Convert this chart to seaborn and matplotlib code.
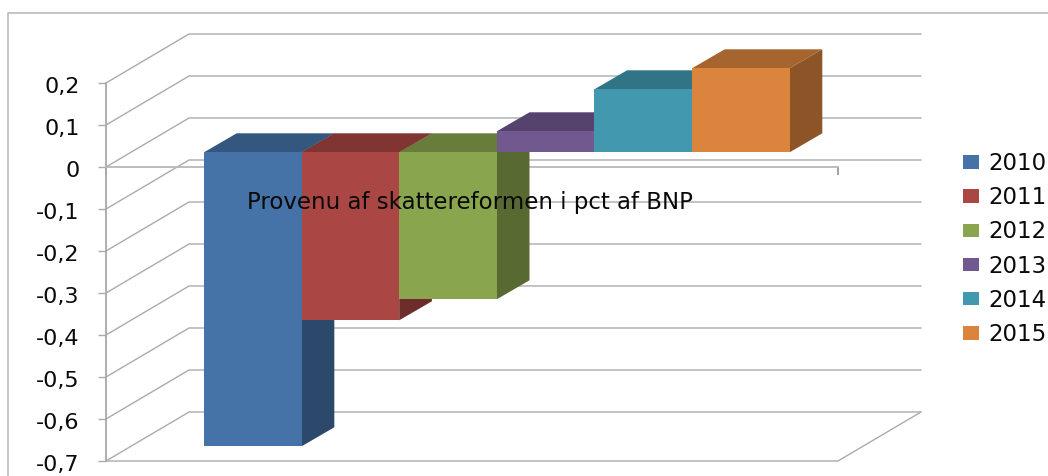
import matplotlib
matplotlib.use("Agg")
import matplotlib.pyplot as plt
from matplotlib.colors import to_rgb
from matplotlib.lines import Line2D
from matplotlib.patches import Polygon
from matplotlib.transforms import ScaledTranslation
import numpy as np
import pandas as pd
import seaborn as sns

years = ["2010", "2011", "2012", "2013", "2014", "2015"]
values = [-0.70, -0.40, -0.35, 0.05, 0.15, 0.20]
colors = ["#4572A7", "#AA4643", "#89A54E", "#71588F", "#4198AF", "#DB843D"]
tick_values = [0.2, 0.1, 0, -0.1, -0.2, -0.3, -0.4, -0.5, -0.6, -0.7]
tick_labels = ["0,2", "0,1", "0", "-0,1", "-0,2", "-0,3", "-0,4", "-0,5", "-0,6", "-0,7"]
title = "Provenu af skattereformen i pct af BNP"

W, H = 1048, 476
GRID = "#ababab"
TEXT = "#0a0a0a"

sns.set_theme(style="white")


def px_axes(fig, left, top, right, bottom):
    # axes placed by picture pixels, y counted from the top
    return fig.add_axes([left / W, 1 - bottom / H, (right - left) / W, (bottom - top) / H])


fig = plt.figure(figsize=(W / 100, H / 100), dpi=100)

# chart frame, open on the right and at the bottom
fig.add_artist(Line2D([8 / W, 8 / W, 1], [0, 1 - 13 / H, 1 - 13 / H], color="#c0c0c0", lw=1.3))

# front plane with the axis, walls and floor
ax_wall = px_axes(fig, 106, 83, 838, 461)
ax_wall.set_xlim(0, 1)
ax_wall.set_ylim(-0.7, 0.2)
ax_wall.patch.set_visible(False)

wall_dx = 83 / 732
wall_dy = 49 / 420
for t in tick_values:
    ax_wall.plot([0, wall_dx, 1 + wall_dx], [t, t + wall_dy, t + wall_dy],
                 color=GRID, lw=1.0, clip_on=False, solid_joinstyle="miter")
ax_wall.plot([0, 1, 1 + wall_dx], [-0.7, -0.7, -0.7 + wall_dy], color=GRID, lw=1.0, clip_on=False)

ax_wall.set_yticks(tick_values, labels=tick_labels)
ax_wall.set_xticks([0, 1], labels=["", ""])
ax_wall.tick_params(axis="y", left=True, length=6, width=1.0, color=GRID, pad=13,
                    labelsize=16, labelcolor=TEXT)
ax_wall.tick_params(axis="x", bottom=True, length=6, width=1.2, color="#909090", direction="out")
sns.despine(ax=ax_wall, top=True, right=True)
ax_wall.spines["bottom"].set_position(("data", 0))
ax_wall.spines["bottom"].set_color("#b8b8b8")
ax_wall.spines["bottom"].set_linewidth(1.3)
ax_wall.spines["left"].set_color("#a8a8a8")
ax_wall.spines["left"].set_linewidth(1.3)

# tick labels sit a touch below their ticks in the original
label_shift = ScaledTranslation(0, -2 / 100, fig.dpi_scale_trans)
for label in ax_wall.get_yticklabels():
    label.set_transform(label.get_transform() + label_shift)

# bars sit a little inside the depth of the chart
ax_bars = px_axes(fig, 204, 68.3, 789.6, 446.3)
df = pd.DataFrame({"year": years, "value": values})
sns.barplot(data=df, x="year", y="value", hue="year", palette=colors, hue_order=years,
            dodge=False, width=1, gap=0, saturation=1, linewidth=0, legend=True, ax=ax_bars)
ax_bars.set_xlim(-0.5, 5.5)
ax_bars.set_ylim(-0.7, 0.2)

bar_dx = 32.7 / 97.6
bar_dy = 19 / 420
for i, (bar, color) in enumerate(zip(ax_bars.patches, colors)):
    x0 = bar.get_x()
    x1 = x0 + bar.get_width()
    hi = max(0, bar.get_y(), bar.get_y() + bar.get_height())
    lo = min(0, bar.get_y(), bar.get_y() + bar.get_height())
    rgb = np.array(to_rgb(color))
    top_face = Polygon([(x0, hi), (x1, hi), (x1 + bar_dx, hi + bar_dy), (x0 + bar_dx, hi + bar_dy)],
                       facecolor=rgb * 0.76, edgecolor="none", zorder=2 * i + 1, clip_on=False)
    side_face = Polygon([(x1, lo), (x1 + bar_dx, lo + bar_dy), (x1 + bar_dx, hi + bar_dy), (x1, hi)],
                        facecolor=rgb * 0.64, edgecolor="none", zorder=2 * i + 1, clip_on=False)
    ax_bars.add_patch(top_face)
    ax_bars.add_patch(side_face)
    bar.set_zorder(2 * i + 2)

ax_bars.set_axis_off()

sns.move_legend(ax_bars, "upper left", bbox_to_anchor=(963 / W, 1 - 152 / H),
                bbox_transform=fig.transFigure, title=None, frameon=False, fontsize=16.5,
                handlelength=0.7, handleheight=0.52, handletextpad=0.4, labelspacing=0.49,
                borderpad=0, borderaxespad=0, labelcolor=TEXT)

fig.text(247 / W, 1 - 203 / H, title, fontsize=16.5, color=TEXT, va="center", ha="left")

fig.savefig("out.png", dpi=100)
